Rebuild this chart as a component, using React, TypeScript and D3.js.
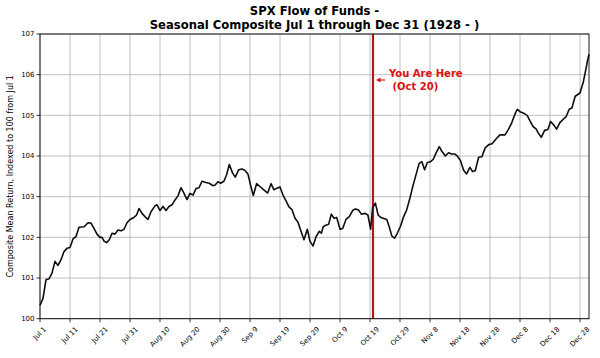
import React from "react";
import * as d3 from "d3";

const days: number[] = [
  0, 1, 2, 3, 4, 5, 6, 7, 8, 9, 10, 11, 12, 13, 14.7, 16, 17, 18, 19, 20, 20.7, 21.3, 22.2, 23.1, 24, 25, 26, 27, 28, 29,
  30, 31.3, 32.2, 33, 34, 35, 36, 37, 38.4, 39, 40, 41, 42, 43, 44, 45, 46, 47, 48, 49, 50, 51, 52, 53, 54, 55.3, 56.4,
  57.6, 58.4, 59.3, 60.2, 61.3, 62.2, 63.1, 64.2, 65.1, 66.2, 67.4, 68.4, 69.3, 70.2, 71.1, 72.2, 73.3, 74.4, 75.9, 77,
  78, 79, 80, 81, 82, 83, 84, 85, 86, 87, 88, 89.1, 90, 91, 92, 93.1, 93.8, 94.4, 95.3, 96.2, 97.1, 98, 98.9, 100,
  100.9, 102, 103.1, 104.2, 105.1, 106.2, 107.1, 108.4, 109.3, 110.2, 110.9, 111.8, 112.7, 113.6, 114.4, 115.6, 116.4,
  117.3, 118.2, 119.1, 120.2, 121.1, 122.2, 123.3, 124.4, 125.6, 126.4, 127.3, 128.2, 129.1, 130.2, 131.1, 132, 133.1,
  134, 135.1, 136.2, 137.1, 138.2, 139.1, 140.2, 141.2, 142.2, 143.3, 144.2, 145.1, 146.2, 147.3, 148.4, 149.6, 150.7,
  152, 153.3, 155, 156.1, 157.2, 158.5, 159.1, 160, 161.3, 162.4, 163.4, 164.4, 165.4, 166.2, 167.1, 168.2, 169.3,
  170.2, 171.3, 172.2, 173.3, 174.5, 175.4, 176.4, 177.3, 178.4, 180, 181.1, 182, 182.6, 183,
];

const values: number[] = [
  100.33, 100.5, 100.96, 100.98, 101.12, 101.41, 101.31, 101.45, 101.65, 101.73, 101.75, 101.96, 102.02, 102.25, 102.26,
  102.36, 102.35, 102.22, 102.08, 102.0, 102.0, 101.91, 101.87, 101.94, 102.1, 102.08, 102.18, 102.16, 102.2, 102.36,
  102.44, 102.49, 102.55, 102.71, 102.59, 102.51, 102.44, 102.63, 102.78, 102.8, 102.66, 102.76, 102.66, 102.76, 102.8,
  102.92, 103.02, 103.22, 103.08, 102.93, 103.08, 103.04, 103.2, 103.22, 103.38, 103.35, 103.33, 103.27, 103.29, 103.37,
  103.33, 103.38, 103.54, 103.79, 103.58, 103.48, 103.66, 103.68, 103.64, 103.56, 103.28, 103.03, 103.32, 103.25, 103.18,
  103.09, 103.32, 103.17, 103.21, 103.24, 103.04, 102.9, 102.75, 102.68, 102.47, 102.37, 102.15, 101.94, 102.2, 101.9,
  101.79, 102.01, 102.15, 102.1, 102.26, 102.3, 102.32, 102.57, 102.47, 102.49, 102.2, 102.22, 102.44, 102.51, 102.66,
  102.7, 102.67, 102.57, 102.59, 102.55, 102.2, 102.74, 102.84, 102.55, 102.49, 102.47, 102.44, 102.26, 102.03, 101.98,
  102.1, 102.28, 102.49, 102.67, 102.96, 103.29, 103.61, 103.82, 103.86, 103.66, 103.84, 103.86, 103.92, 104.07, 104.23,
  104.11, 104.0, 104.08, 104.05, 104.05, 104.0, 103.88, 103.65, 103.56, 103.72, 103.62, 103.64, 103.97, 103.98, 104.2,
  104.28, 104.3, 104.42, 104.52, 104.52, 104.65, 104.81, 105.06, 105.15, 105.09, 105.05, 105.0, 104.85, 104.72, 104.66,
  104.55, 104.46, 104.63, 104.65, 104.85, 104.76, 104.66, 104.82, 104.91, 104.97, 105.15, 105.18, 105.47, 105.55,
  105.82, 106.15, 106.38, 106.5,
];

const xTickDays: number[] = [0, 10, 20, 30, 40, 50, 60, 70, 80, 90, 100, 110, 120, 130, 140, 150, 160, 170, 180];
const xTickLabels: string[] = [
  "Jul 1", "Jul 11", "Jul 21", "Jul 31", "Aug 10", "Aug 20", "Aug 30", "Sep 9", "Sep 19", "Sep 29",
  "Oct 9", "Oct 19", "Oct 29", "Nov 8", "Nov 18", "Nov 28", "Dec 8", "Dec 18", "Dec 28",
];
const yTicks: number[] = [100, 101, 102, 103, 104, 105, 106, 107];
const markerDay = 111;
const titleLines: string[] = ["SPX Flow of Funds -", "Seasonal Composite Jul 1 through Dec 31 (1928 - )"];
const yLabel = "Composite Mean Return, Indexed to 100 from Jul 1";
const noteLines: string[] = ["You Are Here", "(Oct 20)"];

const FONT = "'DejaVu Sans', Verdana, sans-serif";

function measure(text: string, size: number): number {
  if (typeof document === "undefined") return text.length * size * 0.58;
  const c = document.createElement("canvas");
  const ctx = c.getContext("2d");
  if (!ctx) return text.length * size * 0.58;
  ctx.font = `${size}px 'DejaVu Sans'`;
  return ctx.measureText(text).width;
}

export default function App() {
  const L = 40, R = 589, T = 34, B = 318.7;
  const x = d3.scaleLinear().domain([0, 183]).range([L, R]);
  const y = d3.scaleLinear().domain([100, 107]).range([B, T]);
  const pts: [number, number][] = days.map((d, i) => [d, values[i]]);
  const line = d3.line<[number, number]>().x((d) => x(d[0])).y((d) => y(d[1]));
  const tickFs = 7;

  return (
    <svg width={600} height={358} style={{ position: "absolute", left: 0, top: 0, background: "#fff" }} fontFamily={FONT}>
      <rect x={0} y={0} width={600} height={358} fill="#fff" />
      {/* grid */}
      {xTickDays.map((d) => (
        <line key={"gx" + d} x1={x(d)} x2={x(d)} y1={T} y2={B} stroke="#b0b0b0" strokeWidth={0.8} />
      ))}
      {yTicks.map((v) => (
        <line key={"gy" + v} x1={L} x2={R} y1={y(v)} y2={y(v)} stroke="#b0b0b0" strokeWidth={0.8} />
      ))}
      {/* marker line */}
      <line x1={x(markerDay)} x2={x(markerDay)} y1={T} y2={B} stroke="#b3161d" strokeWidth={2.2} />
      {/* series */}
      <path d={line(pts) || ""} fill="none" stroke="#0d0d14" strokeWidth={1.6} strokeLinejoin="round" />
      {/* frame */}
      <rect x={L} y={T} width={R - L} height={B - T} fill="none" stroke="#000" strokeWidth={0.9} />
      {/* y ticks */}
      {yTicks.map((v) => (
        <g key={"yt" + v}>
          <line x1={L - 3.5} x2={L} y1={y(v)} y2={y(v)} stroke="#000" strokeWidth={0.8} />
          <text x={L - 5.5} y={y(v)} dy="0.35em" fontSize={tickFs} textAnchor="end" fill="#000">
            {v}
          </text>
        </g>
      ))}
      {/* x ticks */}
      {xTickDays.map((d, i) => {
        const w = measure(xTickLabels[i], tickFs);
        const h = tickFs * 1.0;
        const H = (w + h) * Math.SQRT1_2;
        const cx = x(d);
        const cy = B + 3.5 + 3.5 + H / 2;
        return (
          <g key={"xt" + d}>
            <line x1={cx} x2={cx} y1={B} y2={B + 3.5} stroke="#000" strokeWidth={0.8} />
            <text
              x={cx}
              y={cy}
              fontSize={tickFs}
              textAnchor="middle"
              dominantBaseline="central"
              transform={`rotate(-45 ${cx} ${cy})`}
              fill="#000"
            >
              {xTickLabels[i]}
            </text>
          </g>
        );
      })}
      {/* y label */}
      <text
        x={0}
        y={0}
        fontSize={8}
        textAnchor="middle"
        transform={`translate(12.5 ${(T + B) / 2}) rotate(-90)`}
        fill="#000"
      >
        {yLabel}
      </text>
      {/* title */}
      <text x={(L + R) / 2} y={15} fontSize={11.6} fontWeight="bold" textAnchor="middle" fill="#000">
        {titleLines[0]}
      </text>
      <text x={(L + R) / 2} y={28.5} fontSize={11.6} fontWeight="bold" textAnchor="middle" fill="#000">
        {titleLines[1]}
      </text>
      {/* annotation */}
      <line x1={x(markerDay) + 12} x2={x(markerDay) + 5} y1={80} y2={80} stroke="#dd1111" strokeWidth={1.2} />
      <path
        d={`M${x(markerDay) + 3},80 L${x(markerDay) + 7.5},77.5 L${x(markerDay) + 7.5},82.5 Z`}
        fill="#dd1111"
      />
      <text x={389} y={77} fontSize={10} fontWeight="bold" fill="#dd1111">
        {noteLines[0]}
      </text>
      <text x={392.5} y={89.5} fontSize={10} fontWeight="bold" fill="#dd1111">
        {noteLines[1]}
      </text>
    </svg>
  );
}
